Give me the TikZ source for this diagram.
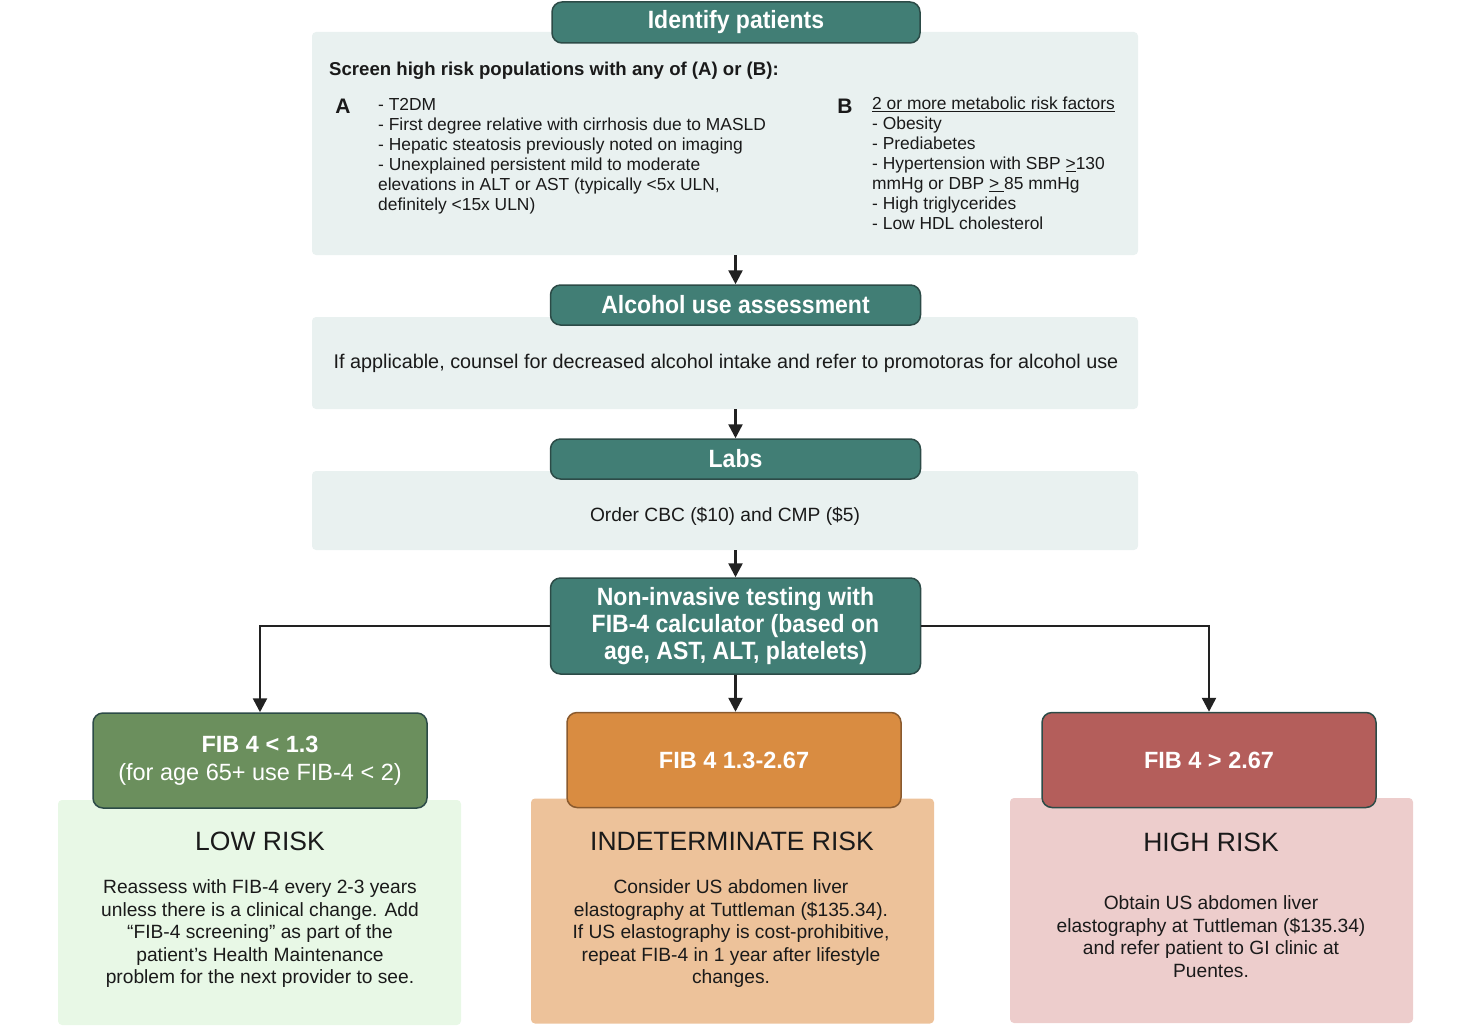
\documentclass[tikz,border=0pt]{standalone}
\usepackage{fontspec}
\setmainfont{Liberation Sans}
\newfontfamily\headfont[FakeStretch=0.92]{Liberation Sans}
\usetikzlibrary{arrows.meta}

\definecolor{headteal}{RGB}{65,126,117}
\definecolor{headline}{RGB}{44,75,71}
\definecolor{panelgrey}{RGB}{233,241,240}
\definecolor{lowbox}{RGB}{107,143,93}
\definecolor{lowpanel}{RGB}{232,248,230}
\definecolor{midbox}{RGB}{217,140,65}
\definecolor{midline}{RGB}{138,90,46}
\definecolor{midpanel}{RGB}{237,194,154}
\definecolor{highbox}{RGB}{180,94,91}
\definecolor{highpanel}{RGB}{237,205,204}
\definecolor{arrowink}{RGB}{34,34,34}
\definecolor{textink}{RGB}{26,26,26}

\begin{document}
\begin{tikzpicture}[x=1pt,y=-1pt,
	header/.style={rectangle, rounded corners=10pt, draw=headline, line width=1.5pt,
		fill=headteal, text=white, minimum width=370pt, minimum height=40pt,
		font=\fontsize{25}{27}\selectfont\headfont\bfseries, align=center},
	panel/.style={rectangle, rounded corners=4pt, fill=panelgrey,
		minimum width=826pt},
	paneltext/.style={text=textink, font=\fontsize{19.8}{22}\selectfont},
	listtext/.style={anchor=north west, inner sep=0pt, align=left, text=textink,
		font=\fontsize{17.4}{20}\selectfont},
	riskbox/.style={rectangle, rounded corners=10pt, draw=headline, line width=1.5pt,
		text=white, minimum width=334pt, minimum height=95pt, align=center,
		font=\fontsize{23.5}{28}\selectfont},
	riskpanel/.style={rectangle, rounded corners=4pt, minimum width=403pt,
		minimum height=225pt},
	risktitle/.style={text=textink, font=\fontsize{26.5}{30}\selectfont},
	risktext/.style={text=textink, align=center, font=\fontsize{19.2}{22.5}\selectfont},
	flow/.style={draw=arrowink, line width=2.5pt,
		-{Triangle[width=14pt,length=14pt]}}
]

\useasboundingbox (0,0) rectangle (1474,1033);

% Identify patients
\node[panel, minimum height=223pt] (Screen) at (725,143.5) {};
\node[header, minimum width=368pt, minimum height=41pt] (Identify) at (736,22.5) {Identify patients};
\node[anchor=west, inner sep=0pt, text=textink, font=\fontsize{18.6}{21}\selectfont\bfseries]
	(ScreenHead) at (329,71) {Screen high risk populations with any of (A) or (B):};
\node[text=textink, font=\fontsize{21}{24}\selectfont\bfseries] (GroupA) at (343,106) {A};
\node[text=textink, font=\fontsize{21}{24}\selectfont\bfseries] (GroupB) at (845,106) {B};
\node[listtext] (ListA) at (378,98)
	{- T2DM\\
	 - First degree relative with cirrhosis due to MASLD\\
	 - Hepatic steatosis previously noted on imaging\\
	 - Unexplained persistent mild to moderate\\
	 elevations in ALT or AST (typically <5x ULN,\\
	 definitely <15x ULN)};
\node[listtext] (ListB) at (872,97)
	{\underline{2 or more metabolic risk factors}\\
	 - Obesity\\
	 - Prediabetes\\
	 - Hypertension with SBP \underline{>}130\\
	 mmHg or DBP \underline{>\ }85 mmHg\\
	 - High triglycerides\\
	 - Low HDL cholesterol};

% Alcohol use assessment
\node[panel, minimum height=92pt] (Counsel) at (725,363) {};
\node[paneltext] (CounselText) at (726,363)
	{If applicable, counsel for decreased alcohol intake and refer to promotoras for alcohol use};
\node[header] (Alcohol) at (735.5,305) {Alcohol use assessment};

% Labs
\node[panel, minimum height=79pt] (Order) at (725,510.5) {};
\node[paneltext, font=\fontsize{19.2}{22}\selectfont] (OrderText) at (725,516)
	{Order CBC (\$10) and CMP (\$5)};
\node[header] (Labs) at (735.5,459) {Labs};

% Non-invasive testing
\node[header, minimum height=96pt] (Testing) at (735.5,626)
	{Non-invasive testing with\\FIB-4 calculator (based on\\age, AST, ALT, platelets)};

% Low risk
\node[riskpanel, fill=lowpanel] (LowPanel) at (259.5,912.5) {};
\node[riskbox, fill=lowbox] (Low) at (260,760.5)
	{{\bfseries FIB 4 < 1.3}\\(for age 65+ use FIB-4 < 2)};
\node[risktitle] (LowTitle) at (260,841) {LOW RISK};
\node[risktext] (LowText) at (260,934)
	{Reassess with FIB-4 every 2-3 years\\
	 unless there is a clinical change. Add\\
	 “FIB-4 screening” as part of the\\
	 patient’s Health Maintenance\\
	 problem for the next provider to see.};

% Indeterminate risk
\node[riskpanel, fill=midpanel] (MidPanel) at (732.5,911) {};
\node[riskbox, fill=midbox, draw=midline] (Mid) at (734,760)
	{\bfseries FIB 4 1.3-2.67};
\node[risktitle] (MidTitle) at (732,841) {INDETERMINATE RISK};
\node[risktext] (MidText) at (731,934)
	{Consider US abdomen liver\\
	 elastography at Tuttleman (\$135.34).\\
	 If US elastography is cost-prohibitive,\\
	 repeat FIB-4 in 1 year after lifestyle\\
	 changes.};

% High risk
\node[riskpanel, fill=highpanel] (HighPanel) at (1211.5,910.5) {};
\node[riskbox, fill=highbox] (High) at (1209,760)
	{\bfseries FIB 4 > 2.67};
\node[risktitle] (HighTitle) at (1211,842) {HIGH RISK};
\node[risktext] (HighText) at (1211,936.5)
	{Obtain US abdomen liver\\
	 elastography at Tuttleman (\$135.34)\\
	 and refer patient to GI clinic at\\
	 Puentes.};

% Connect steps
\draw[flow] (Screen.south -| Alcohol.north) -- (Alcohol.north);
\draw[flow] (Counsel.south -| Labs.north) -- (Labs.north);
\draw[flow] (Order.south -| Testing.north) -- (Testing.north);

% Connect testing to risk groups
\draw[flow] (Testing.west) -| (Low.north);
\draw[flow] (Testing.south) -- (Testing.south |- Mid.north);
\draw[flow] (Testing.east) -| (High.north);

\end{tikzpicture}
\end{document}
